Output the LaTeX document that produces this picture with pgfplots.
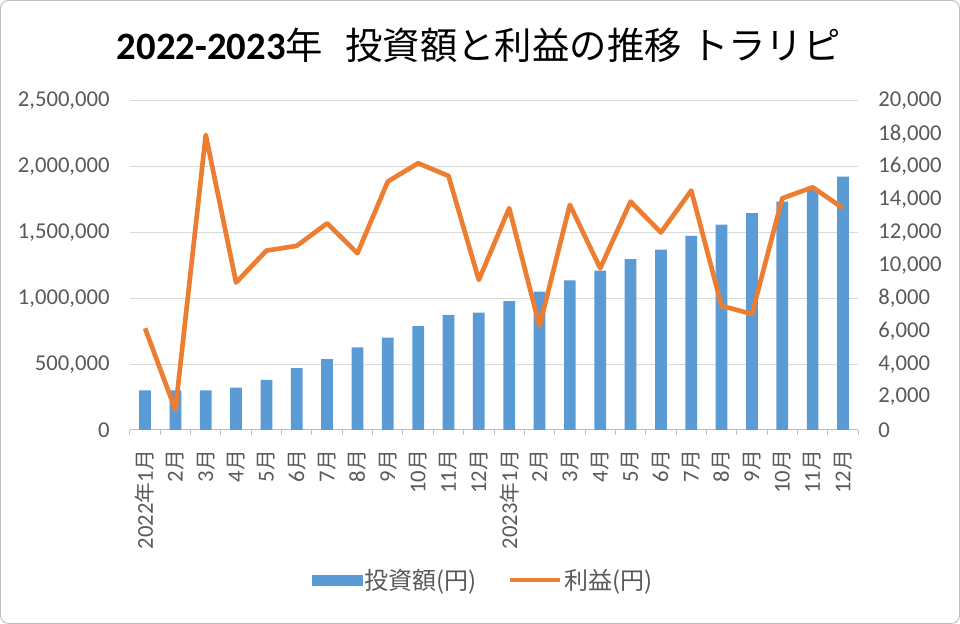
\documentclass[border=0pt]{standalone}
\usepackage{pgfplots}
\pgfplotsset{compat=1.18}
\usepackage{pgfplotstable}
\usepackage{fontspec}
\setmainfont{Carlito}
\newfontfamily\cjk{Noto Sans CJK JP}
\definecolor{mblue}{HTML}{5B9BD5}
\definecolor{morange}{HTML}{ED7D31}
\definecolor{tgray}{HTML}{595959}
\definecolor{ggray}{HTML}{D9D9D9}
\definecolor{agray}{HTML}{BFBFBF}
\newcommand\cj[1]{{\fontsize{15.5}{16}\selectfont\cjk #1}}
\newcommand\mo[1]{#1\cj{月}}
\newcommand\yr[2]{#1\cj{年}#2\cj{月}}
\pgfplotstableread{
x invest profit
0 300000 6180
1 300000 1220
2 300000 17930
3 321000 8960
4 380000 10900
5 469000 11190
6 539000 12560
7 628000 10740
8 702000 15100
9 788000 16210
10 874000 15440
11 892000 9120
12 978000 13480
13 1051000 6320
14 1137000 13680
15 1211000 9830
16 1297000 13880
17 1370000 12000
18 1474000 14550
19 1560000 7540
20 1647000 7050
21 1735000 14080
22 1824000 14750
23 1925000 13480
}\data
\begin{document}
\begin{tikzpicture}
\draw[agray, rounded corners=6pt, line width=0.75pt] (0.5pt,0.5pt) rectangle (719.5pt,467.5pt);
\node[text=black, inner sep=0pt] at (359pt,434.25pt) {{\fontsize{29}{30}\selectfont\bfseries 2022-2023}{\fontsize{28}{30}\selectfont\cjk 年\hspace{17pt}投資額と利益の推移\hspace{7pt}トラリピ}};
\pgfplotsset{
  base/.style={
    scale only axis, width=546pt, height=246.75pt,
    at={(97.5pt,145.5pt)}, anchor=south west,
    xmin=-0.5, xmax=23.5,
    tick label style={font=\fontsize{17}{18}\selectfont, text=tgray, inner sep=0pt},
    /pgf/number format/fixed,
    /pgf/number format/assume math mode=true,
    /pgf/number format/1000 sep={,},
    scaled y ticks=false,
    major tick length=0pt,
  }
}
\begin{axis}[base,
  ymin=0, ymax=2500000, ytick distance=500000,
  ymajorgrids, grid style={ggray, line width=0.75pt},
  axis x line*=bottom, axis y line*=left,
  y axis line style={draw=none},
  x axis line style={agray, line width=0.75pt},
  xtick={0,...,23},
  xticklabels={{\yr{2022}{1}},\mo{2},\mo{3},\mo{4},\mo{5},\mo{6},\mo{7},\mo{8},\mo{9},\mo{10},\mo{11},\mo{12},{\yr{2023}{1}},\mo{2},\mo{3},\mo{4},\mo{5},\mo{6},\mo{7},\mo{8},\mo{9},\mo{10},\mo{11},\mo{12}},
  xticklabel style={rotate=90, anchor=east},
  xticklabel shift=15pt,
  yticklabel shift=15pt,
  minor xtick={-0.5,0.5,...,23.5},
  minor tick length=3.75pt, tick align=outside,
  minor tick style={agray, line width=0.75pt},
]
\addplot[ybar, bar width=8.8pt, fill=mblue, draw=none] table[x=x, y=invest] {\data};
\end{axis}
\begin{axis}[base,
  ymin=0, ymax=20000, ytick distance=2000,
  axis x line=none, axis y line*=right,
  y axis line style={draw=none},
  yticklabel style={anchor=west},
  yticklabel shift=15pt,
  legend style={draw=none, fill=none, legend columns=2, at={(0.4855,-0.456)}, anchor=center,
    font=\fontsize{18}{20}\selectfont\cjk, text=tgray,
    /tikz/every even column/.append style={column sep=21pt}},
  legend cell align=left,
]
\addlegendimage{legend image code/.code={\fill[mblue] (0pt,-3.75pt) rectangle (37.5pt,3.75pt);}}
\addlegendentry{投資額(円)}
\addplot[morange, line width=3.5pt, line join=round, mark=none,
  legend image code/.code={\draw[morange, line width=3pt] (0pt,0pt) -- (37.5pt,0pt);}]
  table[x=x, y=profit] {\data};
\addlegendentry{利益(円)}
\end{axis}
\end{tikzpicture}
\end{document}
